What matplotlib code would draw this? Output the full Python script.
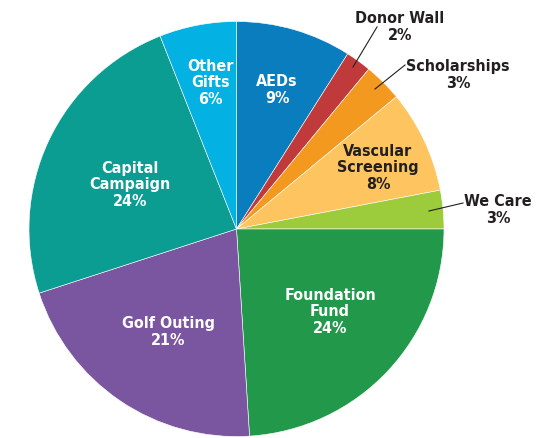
import numpy as np
import matplotlib.pyplot as plt

plt.rcParams['font.family'] = ['DejaVu Sans']
plt.rcParams['font.stretch'] = 'condensed'

categories = ["AEDs", "Donor Wall", "Scholarships", "Vascular\nScreening", "We Care",
              "Foundation\nFund", "Golf Outing", "Capital\nCampaign", "Other\nGifts"]
shares = [9, 2, 3, 8, 3, 24, 21, 24, 6]

colors = ["#0A7DBE", "#C03A3C", "#F4991F", "#FDC45F", "#9CCB3B",
          "#22994A", "#7A55A0", "#0B9C92", "#03B1E2"]

# label centre in pixels of the 559x439 image, text colour, leader line (from, to)
label_pos = [(277, 90), (400, 27), (458, 75), (378, 168), (498, 210),
             (330, 312), (168, 332), (130, 185), (210, 83)]
text_col = ["white", "#231F20", "#231F20", "#231F20", "#231F20",
            "white", "white", "white", "white"]
leaders = {1: ((377, 28), (353, 68)), 2: ((405, 66), (375, 90)), 4: ((463, 204), (429, 212))}

W, H = 559, 439
cx, cy, R = 236.5, 230.0, 207.5

fig = plt.figure(figsize=(W / 100, H / 100), dpi=100)
ax = fig.add_axes([(cx - R) / W, (H - cy - R) / H, 2 * R / W, 2 * R / H])
ax.pie(shares, colors=colors, startangle=90, counterclock=False, radius=1,
       wedgeprops=dict(edgecolor="white", linewidth=0.4))
ax.set_xlim(-1, 1)
ax.set_ylim(-1, 1)
ax.set_aspect("equal")
ax.axis("off")


def to_data(p):
    return ((p[0] - cx) / R, (cy - p[1]) / R)


for i, (name, val) in enumerate(zip(categories, shares)):
    x, y = to_data(label_pos[i])
    ax.text(x, y, f"{name}\n{val}%", ha="center", va="center", color=text_col[i],
            fontsize=11.5, fontweight="bold", fontstretch="condensed",
            linespacing=1.15, clip_on=False)

for i, (a, b) in leaders.items():
    (x0, y0), (x1, y1) = to_data(a), to_data(b)
    ax.plot([x0, x1], [y0, y1], color="#231F20", linewidth=0.8, clip_on=False)

plt.savefig("out.png", dpi=100)
